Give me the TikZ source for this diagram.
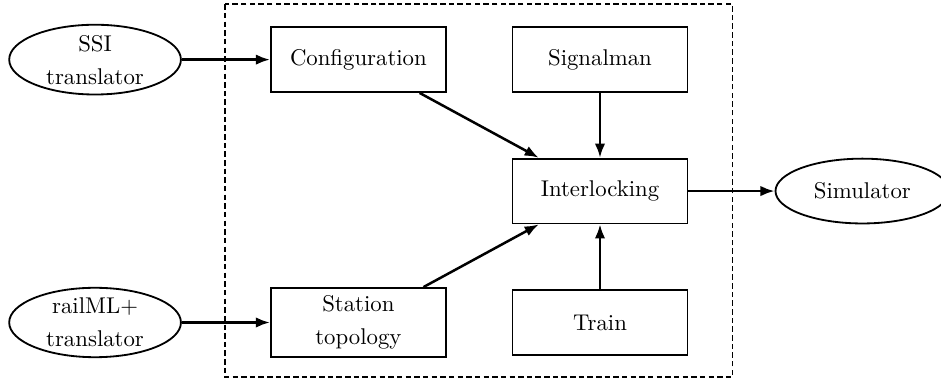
\documentclass[tikz,border=0pt]{standalone}
\usetikzlibrary{positioning,shapes.geometric,arrows.meta,calc}
\begin{document}
\begin{tikzpicture}[node distance={10mm}, thick,
    box/.style = {draw, rectangle, minimum width=27mm, minimum height=10mm, align=center, font=\fontsize{10}{14.5}\selectfont},
    ell/.style = {draw, ellipse, minimum width=26.5mm, minimum height=10mm, inner sep=0pt, align=center, font=\fontsize{10}{14.5}\selectfont},
    arr/.style = {-{Latex[length=6.2pt,width=4.6pt]}, line width=1.1pt}]
      \useasboundingbox (0,0) rectangle (14.52,5.83);
      \node[box] (conf) at (5.53,4.91) {Configuration};
      \node[box] (sig) [right=of conf] {Signalman};
      \node[box] (inter) [below=of sig] {Interlocking};
      \node[box] (train) [below=of inter] {Train};
      \node[box] (topo) [left=of train] {Station\\topology};
      \node[ell] (ssi) [left=13.6mm of conf] {SSI\\translator};
      \node[ell] (rml) [left=13.6mm of topo] {railML+\\translator};
      \node[ell, minimum width=26.8mm] (sim) [right=13.3mm of inter] {Simulator};
      \draw[dash pattern=on 2.4pt off 1.4pt] ($(conf.north west)+(-0.7,0.34)$) rectangle ($(train.south east)+(0.68,-0.33)$);
      \draw[arr] (ssi) -- (conf);
      \draw[arr] (rml) -- (topo);
      \draw[arr] (conf) -- (inter);
      \draw[arr] (topo) -- (inter);
      \draw[arr] (sig) -- (inter);
      \draw[arr] (train) -- (inter);
      \draw[arr] (inter) -- (sim);
    \end{tikzpicture}
\end{document}
